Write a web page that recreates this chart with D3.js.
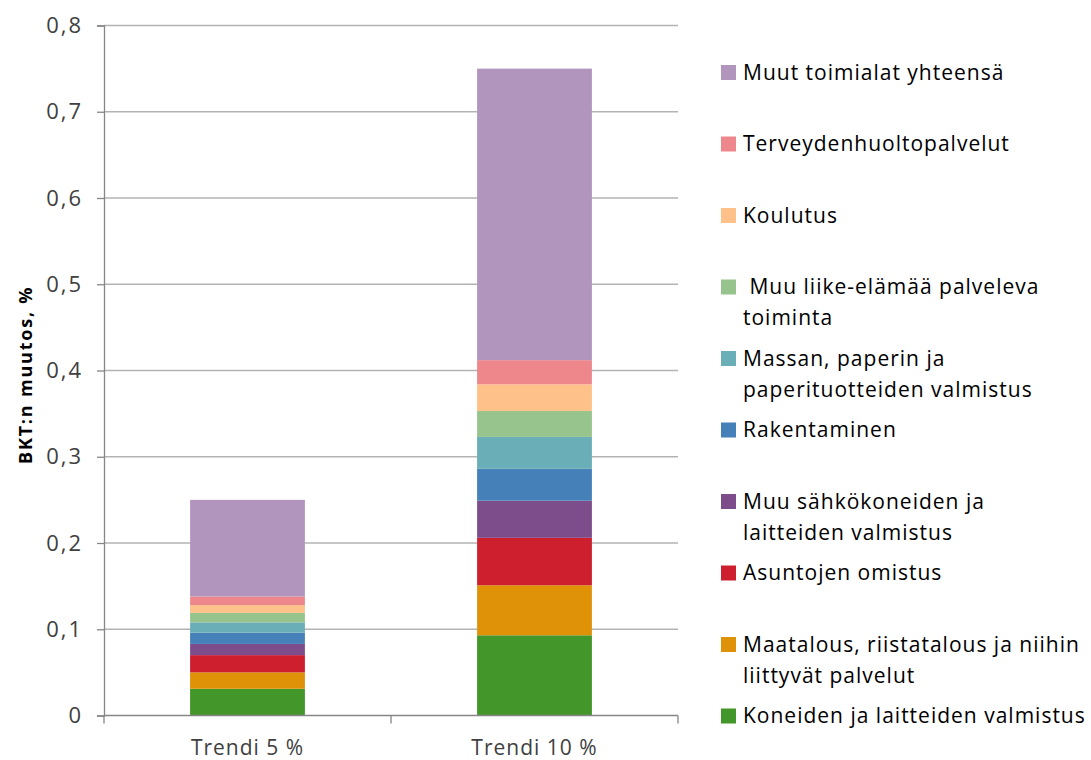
<!DOCTYPE html>
<html>
<head>
<meta charset="utf-8">
<script src="https://cdn.jsdelivr.net/npm/d3@7"></script>
<style>
  body { margin: 0; background: #fff; }
  svg { display: block; font-family: "Open Sans", sans-serif; }
  .legend text { white-space: pre; }
</style>
</head>
<body>
<script>
// chart values
var categories = ["Trendi 5 %", "Trendi 10 %"];

// bottom to top stacking order
var seriesNames = [
  "Koneiden ja laitteiden valmistus",
  "Maatalous, riistatalous ja niihin liittyvät palvelut",
  "Asuntojen omistus",
  "Muu sähkökoneiden ja laitteiden valmistus",
  "Rakentaminen",
  "Massan, paperin ja paperituotteiden valmistus",
  " Muu liike-elämää palveleva toiminta",
  "Koulutus",
  "Terveydenhuoltopalvelut",
  "Muut toimialat yhteensä"
];

// legend lines (wrapped as in the picture)
var legendLines = [
  ["Koneiden ja laitteiden valmistus"],
  ["Maatalous, riistatalous ja niihin", "liittyvät palvelut"],
  ["Asuntojen omistus"],
  ["Muu sähkökoneiden ja", "laitteiden valmistus"],
  ["Rakentaminen"],
  ["Massan, paperin ja", "paperituotteiden valmistus"],
  [" Muu liike-elämää palveleva", "toiminta"],
  ["Koulutus"],
  ["Terveydenhuoltopalvelut"],
  ["Muut toimialat yhteensä"]
];

var trend5 =  [0.031, 0.019, 0.020, 0.013, 0.013, 0.012, 0.011, 0.009, 0.010, 0.112];
var trend10 = [0.093, 0.058, 0.055, 0.043, 0.037, 0.037, 0.030, 0.031, 0.028, 0.338];

var seriesColors = ["#43962A", "#DF9207", "#CE1F2F", "#7D4C8A", "#4580B9",
                    "#6AAFB8", "#97C38C", "#FDC189", "#EE878C", "#B195BD"];

var yTicks = [0, 0.1, 0.2, 0.3, 0.4, 0.5, 0.6, 0.7, 0.8];

var w = 1091, h = 760;
var margin = {top: 25.5, left: 104, right: 413, bottom: 44.5};

var svg = d3.select("body").append("svg").attr("width", w).attr("height", h);

var rows = categories.map(function(c, i) {
  var r = {cat: c};
  seriesNames.forEach(function(s, j) { r[s] = i == 0 ? trend5[j] : trend10[j]; });
  return r;
});

var stack = d3.stack().keys(seriesNames)(rows);

var x = d3.scaleBand()
  .domain(categories)
  .range([margin.left, w - margin.right])
  .paddingInner(0.6)
  .paddingOuter(0.3);

var y = d3.scaleLinear()
  .domain([0, 0.8])
  .range([h - margin.bottom, margin.top]);

var color = d3.scaleOrdinal().domain(seriesNames).range(seriesColors);

var fmt = function(d) { return d == 0 ? "0" : d3.format(".1f")(d).replace(".", ","); };

// gridlines
svg.append("g").selectAll("line")
  .data(yTicks.filter(function(d) { return d > 0; }))
  .enter().append("line")
  .attr("x1", margin.left).attr("x2", w - margin.right)
  .attr("y1", function(d) { return y(d); })
  .attr("y2", function(d) { return y(d); })
  .attr("stroke", "#B3B3B3")
  .attr("stroke-width", 1.3);

// bars
svg.append("g").selectAll("g")
  .data(stack)
  .enter().append("g")
  .attr("fill", function(d) { return color(d.key); })
  .selectAll("rect")
  .data(function(d) { return d; })
  .enter().append("rect")
  .attr("x", function(d) { return x(d.data.cat); })
  .attr("width", x.bandwidth())
  .attr("y", function(d) { return y(d[1]); })
  .attr("height", function(d) { return y(d[0]) - y(d[1]); });

// y axis
var yAxis = svg.append("g")
  .attr("transform", "translate(" + margin.left + ",0)")
  .call(d3.axisLeft(y).tickValues(yTicks).tickFormat(fmt).tickSize(7).tickPadding(14));
yAxis.select(".domain").attr("stroke", "#868686").attr("stroke-width", 1.3);
yAxis.selectAll(".tick line").attr("stroke", "#868686").attr("stroke-width", 1.3);
yAxis.selectAll("text").attr("font-size", 22).attr("fill", "#404040")
  .attr("letter-spacing", 2)
  .attr("font-family", "'Open Sans', sans-serif");

// x axis with boundary ticks
var xBase = svg.append("g");
xBase.append("line")
  .attr("x1", margin.left).attr("x2", w - margin.right)
  .attr("y1", y(0)).attr("y2", y(0))
  .attr("stroke", "#868686").attr("stroke-width", 1.3);
var bounds = [margin.left, margin.left + x.step(), w - margin.right];
xBase.selectAll(".bt")
  .data(bounds)
  .enter().append("line")
  .attr("x1", function(d) { return d; }).attr("x2", function(d) { return d; })
  .attr("y1", y(0)).attr("y2", y(0) + 8)
  .attr("stroke", "#868686").attr("stroke-width", 1.3);
xBase.selectAll("text")
  .data(categories)
  .enter().append("text")
  .attr("x", function(d) { return x(d) + x.bandwidth() / 2; })
  .attr("y", y(0) + 39)
  .attr("text-anchor", "middle")
  .attr("font-size", 21)
  .attr("letter-spacing", 1)
  .attr("fill", "#404040")
  .text(function(d) { return d; });

// y title
svg.append("text")
  .attr("transform", "translate(32," + y(0.395) + ") rotate(-90)")
  .attr("text-anchor", "middle")
  .attr("font-size", 18)
  .attr("font-weight", "bold")
  .attr("letter-spacing", 1.8)
  .attr("fill", "#000")
  .text("BKT:n muutos, %");

// legend, top entry first
var legend = svg.append("g").attr("class", "legend");
var entries = seriesNames.map(function(s, i) { return {name: s, lines: legendLines[i]}; }).reverse();
var item = legend.selectAll("g")
  .data(entries)
  .enter().append("g")
  .attr("transform", function(d, i) { return "translate(721," + (72 + i * 71.5) + ")"; });
item.append("rect")
  .attr("x", 0).attr("y", -7)
  .attr("width", 15).attr("height", 15)
  .attr("fill", function(d) { return color(d.name); });
item.append("text")
  .attr("font-size", 21)
  .attr("letter-spacing", 1)
  .attr("fill", "#000")
  .selectAll("tspan")
  .data(function(d) { return d.lines; })
  .enter().append("tspan")
  .attr("x", 22)
  .attr("y", function(d, i) { return i * 31 + 7.5; })
  .text(function(d) { return d; });
</script>
</body>
</html>
